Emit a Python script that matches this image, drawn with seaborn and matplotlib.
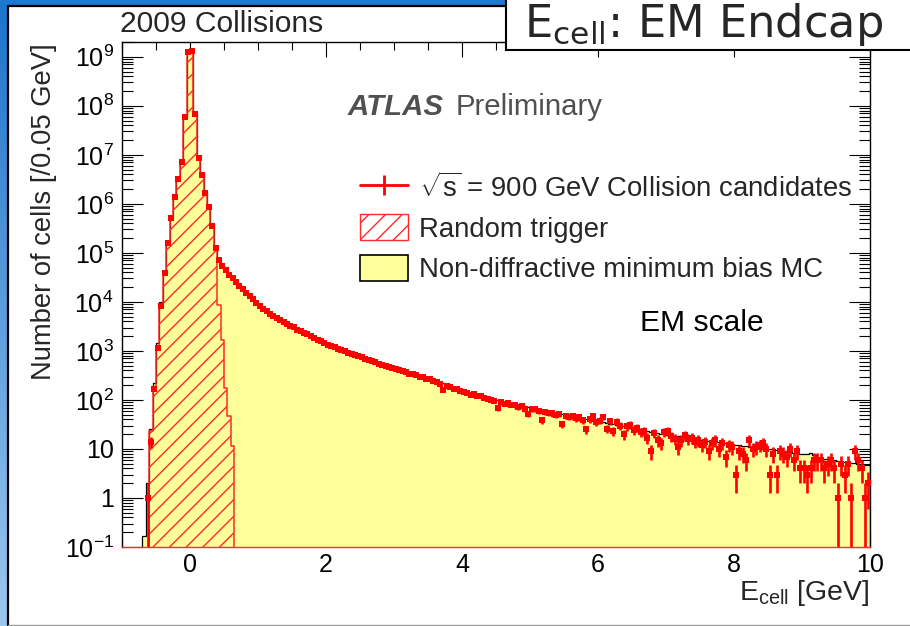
import numpy as np
import matplotlib
matplotlib.use("Agg")
import matplotlib.pyplot as plt
import seaborn as sns
from matplotlib.patches import Patch, Rectangle
from matplotlib.lines import Line2D
from matplotlib.colors import LinearSegmentedColormap
from matplotlib.ticker import FixedLocator, FixedFormatter, LogLocator, NullFormatter, MultipleLocator

# ---------------------------------------------------------------- binning
bin_width = 0.05            # GeV
first_edge = -0.7           # lower edge of the first MC / data bin
rt_first_edge = -0.6        # lower edge of the first random-trigger bin

# Non-diffractive minimum bias MC (cells per 0.05 GeV)
mc_core = [0.17, 2.0, 25, 225, 1480, 9800, 3.9e4, 1.65e5, 5.3e5, 1.45e6, 3.3e6,
           7.0e6, 6.0e7, 1.3e9, 1.3e9, 7.0e7, 8.6e6, 4.0e6, 1.8e6, 9.0e5, 3.8e5, 1.3e5]
mc_tail = [7.2e4, 5.6e4, 4.6e4, 3.7e4, 3.1e4, 2.6e4, 2.2e4, 1.86e4, 1.58e4, 1.35e4, 1.15e4, 1.0e4,
           8300, 7400, 6800, 6000, 5500, 5000, 4570, 4170, 3800, 3470,
           3160, 2880, 2690, 2450, 2290, 2090, 1950, 1780, 1660, 1550,
           1450, 1350, 1260, 1200, 1120, 1050, 1000, 930, 890, 830,
           795, 740, 710, 660, 630, 590, 560, 525, 500, 470,
           447, 427, 407, 389, 372, 355, 331, 316, 302, 288,
           275, 257, 245, 229, 219, 204, 195, 182, 174, 162,
           155, 148, 141, 135, 129, 123, 117, 112, 107, 102,
           98, 95, 91, 89, 85, 83, 79, 78, 74, 72,
           69, 68, 65, 63, 60, 59, 56, 55, 54, 51,
           50, 48, 47, 45, 44, 43, 41, 40, 39, 37,
           36, 35.5, 34.5, 33, 32, 31, 30.5, 29, 28.5, 27,
           26.5, 25, 25, 24, 23, 22.5, 22, 21, 20.5, 20,
           19.5, 19.1, 18.6, 18.2, 17.8, 17.4, 17.0, 17.2, 16.2, 15.8,
           15.5, 15.1, 14.8, 14.5, 14.1, 13.8, 13.5, 13.2, 12.9, 12.6,
           12.3, 12.0, 11.7, 11.5, 11.2, 11.0, 10.7, 10.5, 10.2, 10.0,
           9.8, 9.9, 9.3, 9.1, 8.9, 8.7, 8.5, 8.3, 8.1, 7.9,
           7.9, 7.8, 8.2, 7.4, 6.9, 6.5, 6.3, 6.2, 6.0, 5.9,
           5.8, 5.6, 5.5, 5.4, 5.2, 5.1, 5.0, 4.9, 4.8, 4.7]

# sqrt(s) = 900 GeV collision candidates (cells per 0.05 GeV)
data_core = [0, 1, 14, 166, 1120, 8300, 38000, 160000, 520000, 1400000, 3200000,
             7000000, 60000000, 1250000000, 1300000000, 69000000, 8500000, 3900000,
             1700000, 870000, 350000, 125000]
data_tail = [70000, 54500, 44800, 36000, 30200, 25300, 21400, 18100, 15300, 13100, 11200, 9700,
             8050, 7100, 6500, 5750, 5250, 4760, 4330, 3960, 3620, 3290,
             3010, 2720, 2560, 2320, 2170, 1990, 1850, 1690, 1570, 1470,
             1350, 1250, 1180, 1110, 1040, 975, 925, 870, 820, 775,
             735, 690, 655, 615, 585, 540, 520, 490, 462, 440,
             425, 400, 388, 370, 345, 338, 315, 300, 290, 268,
             262, 240, 232, 216, 160, 196, 186, 170, 166, 150,
             148, 140, 128, 130, 121, 118, 108, 106, 100, 96,
             68, 90, 84, 86, 79, 78, 72, 74, 66, 52,
             66, 64, 60, 39, 57, 55, 53, 50, 52, 32,
             47, 45, 46, 42, 44, 39, 25, 41, 47, 35,
             38, 45, 26, 37, 23, 36, 30, 20, 29, 31,
             24, 27, 22, 23, 17, 9, 21, 15, 13, 22,
             23, 18, 16, 11, 15, 19, 16, 17, 14, 15,
             12, 14, 9, 13, 15, 10, 13, 7, 12, 11,
             3, 9, 8, 6, 15, 10, 11, 12, 13, 10,
             3, 8, 3, 9, 8, 7, 10, 6, 9, 4,
             4, 3, 4, 6, 6, 6, 4, 5, 6, 4,
             1, 5, 3, 5, 1, 9, 6, 4, 1, 2]

# Random trigger (cells per 0.05 GeV), bins from -0.6 to 0.65 GeV
random_trigger = [23, 178, 1260, 8900, 3.8e4, 1.6e5, 5.2e5, 1.4e6, 3.2e6, 6.9e6, 6.0e7,
                  1.3e9, 1.3e9, 6.9e7, 8.5e6, 3.9e6, 1.7e6, 8.7e5, 3.5e5, 1.2e5,
                  8700, 1660, 178, 47, 11.5]

x_ticks = [0, 2, 4, 6, 8, 10]
x_tick_labels = ["0", "2", "4", "6", "8", "10"]
y_ticks = [1e-1, 1, 10, 1e2, 1e3, 1e4, 1e5, 1e6, 1e7, 1e8, 1e9]
y_tick_labels = [r"$10^{-1}$", "1", "10", r"$10^{2}$", r"$10^{3}$", r"$10^{4}$",
                 r"$10^{5}$", r"$10^{6}$", r"$10^{7}$", r"$10^{8}$", r"$10^{9}$"]

legend_labels = [r"$\sqrt{\rm s}$ = 900 GeV Collision candidates",
                 "Random trigger",
                 "Non-diffractive minimum bias MC"]

# ---------------------------------------------------------------- arrays
mc_counts = np.array(mc_core + mc_tail, dtype=float)
data_counts = np.array(data_core + data_tail, dtype=float)
rt_counts = np.array(random_trigger, dtype=float)
assert len(mc_counts) == len(data_counts) == 214

edges = np.round(first_edge + bin_width * np.arange(len(mc_counts) + 1), 4)
centers = np.round(edges[:-1] + bin_width / 2, 4)
rt_edges = np.round(rt_first_edge + bin_width * np.arange(len(rt_counts) + 1), 4)
rt_centers = np.round(rt_edges[:-1] + bin_width / 2, 4)

# ---------------------------------------------------------------- style
sns.set_theme(style="ticks")
plt.rcParams.update({
    "font.family": ["Liberation Sans", "DejaVu Sans"],
    "mathtext.fontset": "custom",
    "mathtext.rm": "Liberation Sans",
    "mathtext.it": "Liberation Sans:italic",
    "mathtext.bf": "Liberation Sans:bold",
    "hatch.color": "#ff2a2a",
    "hatch.linewidth": 1.0,
    "axes.linewidth": 1.0,
    "axes.edgecolor": "black",
    "xtick.color": "black",
    "ytick.color": "black",
})

W, H = 910, 626
fig = plt.figure(figsize=(W / 100, H / 100), dpi=100, facecolor="white")


def fx(px):
    return px / W


def fy(py):
    return 1 - py / H


ax = fig.add_axes([fx(122), fy(547), fx(870) - fx(122), fy(42) - fy(547)])
ax.set_facecolor("white")
ax.set_yscale("log")

# MC histogram: yellow fill with black outline
sns.histplot(x=centers, weights=mc_counts, bins=list(edges), element="step", fill=True,
             color="#ffff99", facecolor="#ffff99", edgecolor="black", linewidth=0.9,
             ax=ax, zorder=1)

# Random trigger: red hatched outline
sns.histplot(x=rt_centers, weights=rt_counts, bins=list(rt_edges), element="step", fill=True,
             color="#ff2a2a", facecolor="none", edgecolor="#ff2a2a", hatch="//",
             linewidth=1.1, ax=ax, zorder=2)

# Collision data with Poisson errors
mask = data_counts > 0
yv = data_counts[mask]
err = np.sqrt(yv)
err_lo = np.minimum(err, yv * 0.999999)
ax.errorbar(centers[mask], yv, yerr=[err_lo, err], fmt="s", color="#ff0000",
            ms=4.4, mew=0, elinewidth=1.9, capsize=0, zorder=4)

# ---------------------------------------------------------------- axes
ax.set_xlim(-1, 10)
ax.set_ylim(0.1, 2e9)
ax.xaxis.set_major_locator(FixedLocator(x_ticks))
ax.xaxis.set_major_formatter(FixedFormatter(x_tick_labels))
ax.xaxis.set_minor_locator(MultipleLocator(0.5))
ax.yaxis.set_major_locator(FixedLocator(y_ticks))
ax.yaxis.set_major_formatter(FixedFormatter(y_tick_labels))
ax.yaxis.set_minor_locator(LogLocator(base=10, subs=np.arange(2, 10), numticks=30))
ax.yaxis.set_minor_formatter(NullFormatter())

ax.tick_params(axis="x", which="major", direction="in", length=10.8, width=0.8,
               labelsize=18, pad=4, top=True, bottom=True)
ax.tick_params(axis="x", which="minor", direction="in", length=5.8, width=0.8,
               top=True, bottom=True)
ax.tick_params(axis="y", which="major", direction="in", length=15, width=0.8,
               labelsize=18, pad=6, left=True, right=True)
ax.tick_params(axis="y", which="minor", direction="in", length=8, width=0.8,
               left=True, right=True)
for s in ax.spines.values():
    s.set_color("black")
    s.set_linewidth(1.0)
ax.spines["bottom"].set_color("#ff2a2a")

ax.set_xlabel(r"E$_{\rm cell}$ [GeV]", fontsize=20.5, loc="right")
ax.xaxis.set_label_coords(1.0, -0.062)
ax.set_ylabel("Number of cells [/0.05 GeV]", fontsize=19.7, loc="top")
ax.yaxis.set_label_coords(-0.087, 0.998)

# ---------------------------------------------------------------- legend
handles = [
    Line2D([0], [0], color="#ff0000", lw=2, marker="|", markersize=14, mew=2),
    Patch(facecolor="white", edgecolor="#ff2a2a", hatch="//", linewidth=1.0),
    Patch(facecolor="#ffff99", edgecolor="black", linewidth=1.2),
]
ax.legend(handles=handles, labels=legend_labels, loc="upper left",
          bbox_to_anchor=(0.318, 0.741), frameon=False, borderpad=0, borderaxespad=0,
          handlelength=1.76, handleheight=1.08, handletextpad=0.4, labelspacing=0.43,
          fontsize=19.8)

# ---------------------------------------------------------------- annotations
ax.text(0.302, 0.855, "ATLAS", transform=ax.transAxes, fontsize=21.2,
        fontweight="bold", fontstyle="italic", color="#505050", va="baseline")
ax.text(0.4465, 0.855, "Preliminary", transform=ax.transAxes, fontsize=21.2,
        color="#505050", va="baseline")
ax.text(0.6925, 0.428, "EM scale", transform=ax.transAxes, fontsize=21.6,
        color="black", va="baseline")
fig.text(fx(120), fy(32), "2009 Collisions", fontsize=21.6, va="baseline")

# ---------------------------------------------------------------- slide frame
blue = LinearSegmentedColormap.from_list("slide", ["#1c74cc", "#9cc7ef"])
grad = np.linspace(0, 1, 256).reshape(-1, 1)
ax_l = fig.add_axes([0, 0, fx(7), 1], zorder=-1)
ax_l.imshow(grad, aspect="auto", cmap=blue, extent=(0, 1, 0, 1), origin="upper")
ax_l.axis("off")
ax_t = fig.add_axes([0, fy(5), fx(506), 5 / H], zorder=-1)
ax_t.set_facecolor("#1f78cf")
ax_t.set_xticks([])
ax_t.set_yticks([])
for s in ax_t.spines.values():
    s.set_visible(False)

fig.add_artist(Line2D([fx(8), fx(8)], [fy(6), fy(625)], color="black", lw=1.6,
                      transform=fig.transFigure))
fig.add_artist(Line2D([fx(8), fx(506)], [fy(6), fy(6)], color="black", lw=1.6,
                      transform=fig.transFigure))
fig.add_artist(Line2D([fx(8), fx(910)], [fy(625), fy(625)], color="#9a9a9a", lw=1.0,
                      transform=fig.transFigure))

# title box
fig.add_artist(Rectangle((fx(506), fy(50)), fx(420), 60 / H, transform=fig.transFigure,
                         facecolor="white", edgecolor="black", lw=1.5, zorder=5))
fig.text(fx(524), fy(37), r"E$_{\rm cell}$: EM Endcap", fontsize=32.2,
         family="DejaVu Sans", math_fontfamily="dejavusans", va="baseline", zorder=6)

fig.savefig("out.png", dpi=100, facecolor="white")
